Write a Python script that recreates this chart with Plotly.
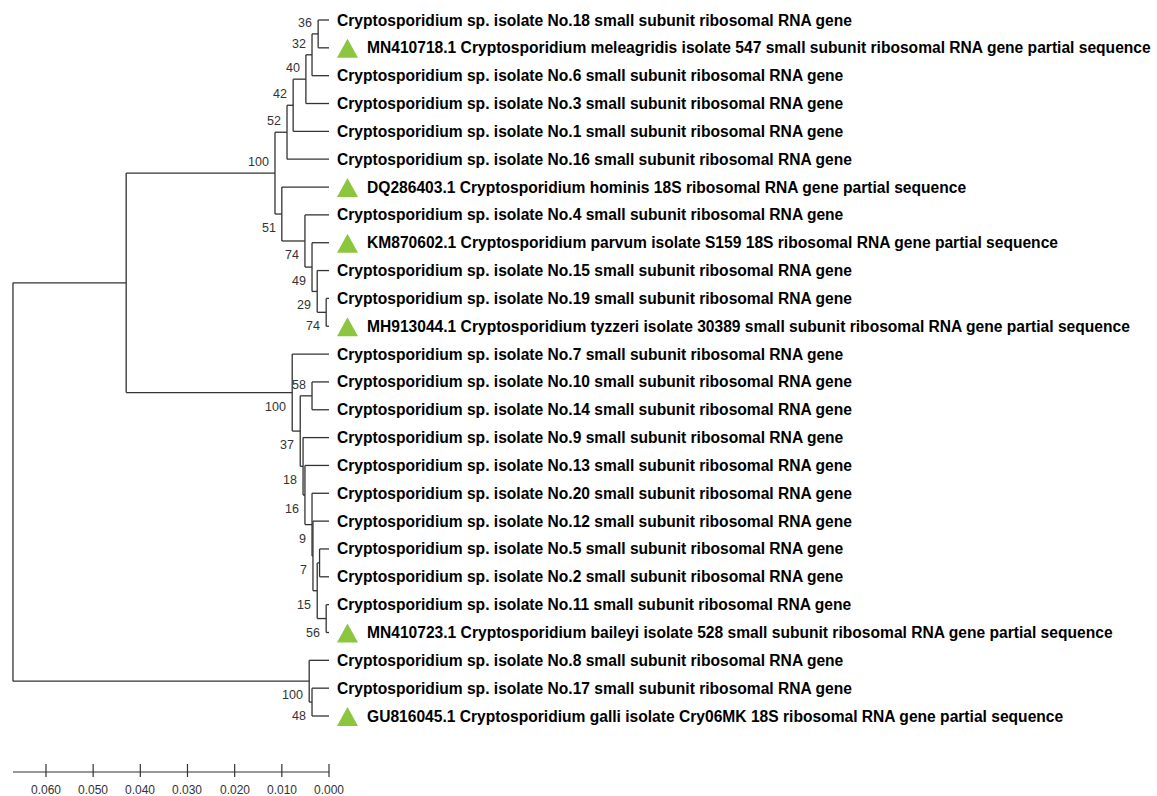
import plotly.graph_objects as go

# ---------------- data ----------------
leaf_names = [
    "Cryptosporidium sp. isolate No.18 small subunit ribosomal RNA gene",
    "MN410718.1 Cryptosporidium meleagridis isolate 547 small subunit ribosomal RNA gene partial sequence",
    "Cryptosporidium sp. isolate No.6 small subunit ribosomal RNA gene",
    "Cryptosporidium sp. isolate No.3 small subunit ribosomal RNA gene",
    "Cryptosporidium sp. isolate No.1 small subunit ribosomal RNA gene",
    "Cryptosporidium sp. isolate No.16 small subunit ribosomal RNA gene",
    "DQ286403.1 Cryptosporidium hominis 18S ribosomal RNA gene partial sequence",
    "Cryptosporidium sp. isolate No.4 small subunit ribosomal RNA gene",
    "KM870602.1 Cryptosporidium parvum isolate S159 18S ribosomal RNA gene partial sequence",
    "Cryptosporidium sp. isolate No.15 small subunit ribosomal RNA gene",
    "Cryptosporidium sp. isolate No.19 small subunit ribosomal RNA gene",
    "MH913044.1 Cryptosporidium tyzzeri isolate 30389 small subunit ribosomal RNA gene partial sequence",
    "Cryptosporidium sp. isolate No.7 small subunit ribosomal RNA gene",
    "Cryptosporidium sp. isolate No.10 small subunit ribosomal RNA gene",
    "Cryptosporidium sp. isolate No.14 small subunit ribosomal RNA gene",
    "Cryptosporidium sp. isolate No.9 small subunit ribosomal RNA gene",
    "Cryptosporidium sp. isolate No.13 small subunit ribosomal RNA gene",
    "Cryptosporidium sp. isolate No.20 small subunit ribosomal RNA gene",
    "Cryptosporidium sp. isolate No.12 small subunit ribosomal RNA gene",
    "Cryptosporidium sp. isolate No.5 small subunit ribosomal RNA gene",
    "Cryptosporidium sp. isolate No.2 small subunit ribosomal RNA gene",
    "Cryptosporidium sp. isolate No.11 small subunit ribosomal RNA gene",
    "MN410723.1 Cryptosporidium baileyi isolate 528 small subunit ribosomal RNA gene partial sequence",
    "Cryptosporidium sp. isolate No.8 small subunit ribosomal RNA gene",
    "Cryptosporidium sp. isolate No.17 small subunit ribosomal RNA gene",
    "GU816045.1 Cryptosporidium galli isolate Cry06MK 18S ribosomal RNA gene partial sequence",
]
leaf_ids = [f"L{i+1}" for i in range(len(leaf_names))]
leaf_is_reference = [not n.startswith("Cryptosporidium sp.") for n in leaf_names]

node_ids = ["G", "F", "E", "D", "C", "P74b", "P29", "P49", "P74a", "P51", "B",
            "N58", "N56", "Na", "M7", "M6", "M5", "M4", "M3", "M2", "M1", "A",
            "BC2", "BC1", "root"]
node_children = [
    ["L1", "L2"], ["G", "L3"], ["F", "L4"], ["E", "L5"], ["D", "L6"],
    ["L11", "L12"], ["L10", "P74b"], ["L9", "P29"], ["L8", "P49"], ["L7", "P74a"],
    ["C", "P51"],
    ["L14", "L15"], ["L22", "L23"], ["L20", "L21"], ["Na", "N56"], ["L19", "M7"],
    ["L18", "M6"], ["L17", "M5"], ["L16", "M4"], ["N58", "M3"], ["L13", "M2"],
    ["B", "M1"],
    ["L25", "L26"], ["L24", "BC2"], ["A", "BC1"],
]
node_heights = [0.0023, 0.0036, 0.0049, 0.0076, 0.0089,
                0.0006, 0.0025, 0.0036, 0.0051, 0.0100, 0.01145,
                0.0036, 0.0006, 0.0020, 0.0025, 0.0034, 0.0036, 0.0051, 0.0055,
                0.0061, 0.0078, 0.0430,
                0.0036, 0.0042, 0.0670]
node_support = [36, 32, 40, 42, 52,
                74, 29, 49, 74, 51, 100,
                58, 56, None, 15, 7, 9, 16, 18, 37, 100, None,
                48, 100, None]

scale_ticks = [0.06, 0.05, 0.04, 0.03, 0.02, 0.01, 0.0]
scale_tick_labels = ["0.060", "0.050", "0.040", "0.030", "0.020", "0.010", "0.000"]

# ---------------- layout helpers ----------------
W, H = 1157, 796
PX_PER_UNIT = 4717.0
X_ZERO_PX = 329.0
ROW_PX = 27.84
ROW0_PX = 20.0

x_left = X_ZERO_PX / PX_PER_UNIT
x_right = -(W - X_ZERO_PX) / PX_PER_UNIT
y_top = -ROW0_PX / ROW_PX
y_bot = (H - ROW0_PX) / ROW_PX

height = {lid: 0.0 for lid in leaf_ids}
ypos = {lid: i for i, lid in enumerate(leaf_ids)}
for nid, h in zip(node_ids, node_heights):
    height[nid] = h
children = dict(zip(node_ids, node_children))
support = dict(zip(node_ids, node_support))


def compute_y(n):
    if n in ypos:
        return ypos[n]
    ys = [compute_y(c) for c in children[n]]
    ypos[n] = (ys[0] + ys[-1]) / 2.0
    return ypos[n]


compute_y("root")

lx, ly = [], []
for nid in node_ids:
    ch = children[nid]
    lx += [height[nid], height[nid], None]
    ly += [ypos[ch[0]], ypos[ch[-1]], None]
    for c in ch:
        lx += [height[nid], height[c], None]
        ly += [ypos[c], ypos[c], None]

LINE_COLOR = "#333333"
FONT = "Arial, Liberation Sans, sans-serif"
fig = go.Figure()
fig.add_trace(go.Scatter(x=lx, y=ly, mode="lines",
                         line=dict(color=LINE_COLOR, width=1.3),
                         hoverinfo="skip", showlegend=False))

shapes = []
# reference triangles (pixel-sized, anchored at leaf tip)
for lid, ref in zip(leaf_ids, leaf_is_reference):
    if ref:
        shapes.append(dict(
            type="path", xref="x", yref="y", xsizemode="pixel", ysizemode="pixel",
            xanchor=0.0, yanchor=ypos[lid],
            path="M 8,-10 L 29,-10 L 18.5,9 Z",
            fillcolor="#8cc63f", line=dict(width=0)))

annotations = []
for lid, name, ref in zip(leaf_ids, leaf_names, leaf_is_reference):
    annotations.append(dict(
        x=0.0, y=ypos[lid], text="<b>" + name + "</b>", showarrow=False,
        xanchor="left", yanchor="middle", xshift=36 if ref else 6,
        font=dict(family=FONT, size=15.6, color="#000000")))

parent = {}
for nid in node_ids:
    for c in children[nid]:
        parent[c] = nid

for nid in node_ids:
    s = support[nid]
    if s is None:
        continue
    p = parent[nid]
    upper = children[p][0] == nid
    annotations.append(dict(
        x=height[nid], y=ypos[nid], text=str(s), showarrow=False,
        xanchor="right", yanchor="middle", xshift=-4, yshift=11 if upper else -14,
        font=dict(family=FONT, size=12.5, color="#333333")))

# scale bar
SCALE_ROW = (772 - ROW0_PX) / ROW_PX
scale_start = height["root"]
sx = [scale_start, 0.0, None]
sy = [SCALE_ROW, SCALE_ROW, None]
for t in scale_ticks:
    sx += [t, t, None]
    sy += [SCALE_ROW - 8 / ROW_PX, SCALE_ROW + 5 / ROW_PX, None]
fig.add_trace(go.Scatter(x=sx, y=sy, mode="lines",
                         line=dict(color=LINE_COLOR, width=1.2),
                         hoverinfo="skip", showlegend=False))
for t, lab in zip(scale_ticks, scale_tick_labels):
    annotations.append(dict(
        x=t, y=SCALE_ROW, text=lab, showarrow=False, xanchor="center",
        yanchor="middle", yshift=-18,
        font=dict(family=FONT, size=12, color="#333333")))

fig.update_layout(
    width=W, height=H, autosize=False,
    margin=dict(l=0, r=0, t=0, b=0),
    paper_bgcolor="white", plot_bgcolor="white",
    xaxis=dict(range=[x_left, x_right], visible=False, fixedrange=True),
    yaxis=dict(range=[y_bot, y_top], visible=False, fixedrange=True),
    annotations=annotations,
    shapes=shapes,
    showlegend=False,
)

fig.write_html(
    "out.html",
    config={"displayModeBar": False},
    post_script="document.body.style.margin='0';document.body.style.overflow='hidden';",
)
